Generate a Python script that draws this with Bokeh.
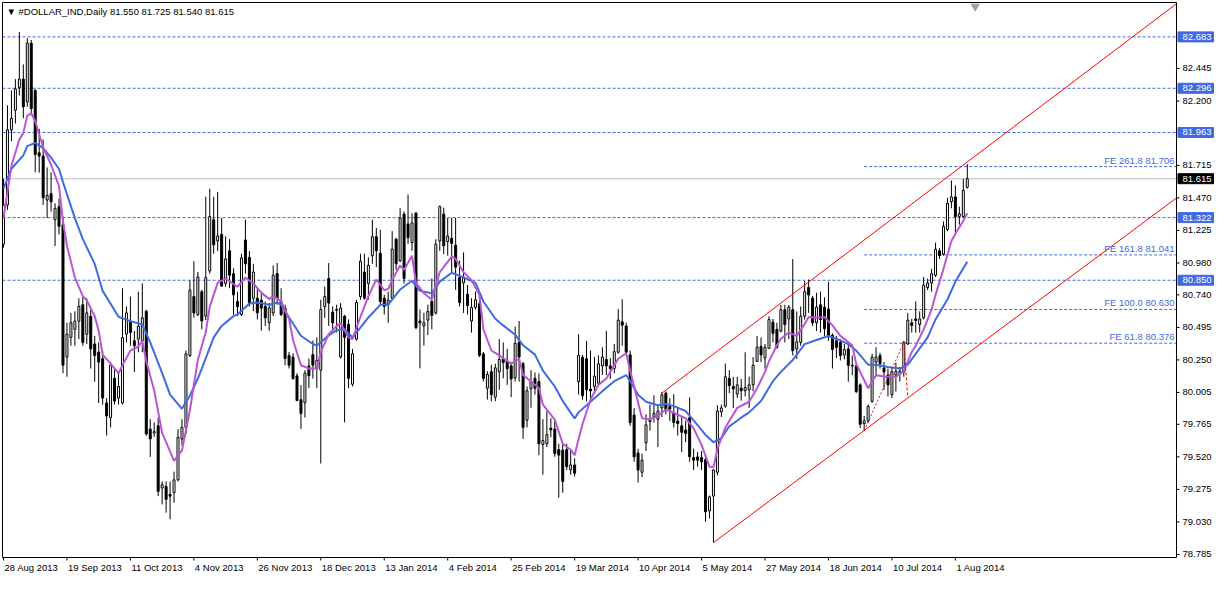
from bokeh.plotting import figure
from bokeh.models import Range1d, ColumnDataSource
from bokeh.core.properties import value
from bokeh.embed import file_html
from bokeh.resources import INLINE

# ---------------- data ----------------
symbol_text = "#DOLLAR_IND,Daily  81.550 81.725 81.540 81.615"
date_labels = ["28 Aug 2013", "19 Sep 2013", "11 Oct 2013", "4 Nov 2013", "26 Nov 2013",
               "18 Dec 2013", "13 Jan 2014", "4 Feb 2014", "25 Feb 2014", "19 Mar 2014",
               "10 Apr 2014", "5 May 2014", "27 May 2014", "18 Jun 2014", "10 Jul 2014", "1 Aug 2014"]
date_bars = [0, 16, 32, 48, 64, 80, 96, 112, 128, 144, 160, 176, 192, 208, 224, 240]

price_ticks = [78.785, 79.030, 79.275, 79.520, 79.765, 80.005, 80.250, 80.495,
               80.740, 80.980, 81.225, 81.470, 81.715, 82.200, 82.445]

opens = [81.121, 81.417, 81.983, 82.131, 82.300, 82.365, 82.193, 82.636, 82.279, 81.810,
         81.786, 81.454, 81.503, 81.306, 81.404, 81.268, 80.271, 80.420, 80.480, 80.542,
         80.665, 80.444, 80.579, 80.370, 80.308, 80.259, 79.926, 79.815, 80.111, 79.963,
         79.926, 80.444, 80.542, 80.394, 80.407, 80.394, 80.616, 79.729, 79.700, 79.754,
         79.286, 79.298, 79.237, 79.249, 79.347, 79.655, 79.742, 80.283, 80.727, 80.592,
         80.764, 80.580, 80.920, 81.306, 81.146, 81.195, 80.826, 81.072, 80.900, 80.690,
         80.592, 81.154, 81.023, 80.715, 80.715, 80.700, 80.653, 80.530, 80.604, 80.900,
         80.690, 80.641, 80.284, 80.272, 80.130, 79.950, 79.927, 80.205, 80.290, 80.185,
         80.173, 80.653, 80.863, 80.610, 80.630, 80.272, 80.580, 80.518, 80.067, 80.407,
         80.727, 80.912, 80.826, 81.035, 81.178, 81.053, 80.715, 80.666, 80.715, 81.159,
         80.998, 81.348, 81.274, 81.134, 81.356, 80.543, 80.506, 80.550, 80.690, 80.604,
         81.146, 81.348, 81.141, 81.166, 81.114, 80.870, 80.830, 80.745, 80.543, 80.646,
         80.673, 80.296, 80.037, 80.161, 79.969, 80.161, 80.259, 80.240, 80.205, 80.116,
         80.382, 80.222, 79.796, 80.033, 80.111, 80.087, 79.614, 79.619, 79.735, 79.730,
         79.574, 79.570, 79.574, 79.422, 79.459, 80.087, 80.270, 80.259, 80.030, 80.050,
         80.074, 80.205, 80.254, 80.205, 80.185, 80.308, 80.537, 80.505, 80.288, 79.835,
         79.549, 79.404, 79.626, 79.786, 79.823, 79.803, 79.889, 80.000, 79.900, 79.852,
         79.790, 79.754, 79.722, 79.815, 79.515, 79.520, 79.515, 79.500, 79.113, 79.224,
         79.404, 79.860, 79.902, 80.111, 80.050, 79.993, 80.037, 80.018, 80.025, 80.062,
         80.239, 80.352, 80.264, 80.338, 80.535, 80.480, 80.468, 80.628, 80.559, 80.628,
         80.333, 80.382, 80.579, 80.796, 80.715, 80.530, 80.665, 80.648, 80.633, 80.436,
         80.394, 80.382, 80.288, 80.333, 80.209, 80.204, 80.062, 79.771, 79.791, 79.938,
         80.234, 80.283, 80.190, 80.136, 79.988, 80.136, 80.148, 80.160, 80.370, 80.529,
         80.559, 80.517, 80.567, 80.796, 80.830, 80.887, 81.072, 81.047, 81.232, 81.441,
         81.478, 81.330, 81.330, 81.550]
highs = [81.614, 82.168, 82.279, 82.365, 82.720, 82.476, 82.673, 82.660, 82.290, 81.990,
         81.910, 81.700, 81.663, 81.430, 81.466, 81.330, 80.530, 80.604, 80.616, 80.714,
         80.727, 80.714, 80.628, 80.431, 80.382, 80.320, 79.963, 80.234, 80.185, 80.160,
         80.790, 80.653, 80.727, 80.468, 80.764, 80.826, 80.628, 79.803, 79.780, 79.815,
         79.335, 79.335, 79.335, 79.409, 79.729, 79.803, 80.320, 80.850, 80.994, 80.912,
         80.777, 81.480, 81.540, 81.479, 81.516, 81.319, 81.180, 81.160, 80.940, 80.764,
         81.050, 81.306, 81.070, 80.974, 80.789, 80.750, 80.690, 80.678, 80.962, 80.980,
         80.790, 80.666, 80.310, 80.300, 80.150, 80.060, 80.173, 80.260, 80.395, 80.420,
         80.703, 80.801, 80.980, 80.653, 80.666, 80.678, 80.590, 80.555, 80.333, 80.703,
         81.050, 81.050, 81.023, 81.306, 81.245, 81.230, 80.740, 80.764, 81.220, 81.170,
         81.393, 81.368, 81.496, 81.355, 81.363, 80.630, 80.604, 80.666, 80.863, 81.159,
         81.413, 81.397, 81.319, 81.320, 81.320, 80.998, 81.060, 80.814, 80.715, 80.764,
         80.690, 80.310, 80.166, 80.215, 80.222, 80.407, 80.382, 80.333, 80.235, 80.501,
         80.543, 80.235, 80.050, 80.173, 80.156, 80.148, 79.804, 79.865, 79.811, 79.804,
         79.619, 79.619, 79.619, 79.570, 79.508, 80.444, 80.289, 80.394, 80.320, 80.271,
         80.284, 80.345, 80.468, 80.264, 80.370, 80.633, 80.707, 80.530, 80.320, 79.889,
         79.581, 79.544, 79.840, 79.914, 79.983, 79.909, 80.008, 80.013, 79.963, 79.993,
         79.889, 79.828, 79.791, 79.968, 79.581, 79.557, 79.564, 79.520, 79.229, 79.426,
         79.909, 79.914, 80.222, 80.173, 80.123, 80.123, 80.106, 80.308, 80.123, 80.271,
         80.431, 80.419, 80.370, 80.579, 80.559, 80.530, 80.665, 80.665, 80.665, 81.010,
         80.616, 80.653, 80.845, 80.855, 80.732, 80.756, 80.764, 80.722, 80.838, 80.450,
         80.431, 80.406, 80.370, 80.370, 80.283, 80.214, 80.074, 79.828, 79.914, 80.296,
         80.345, 80.303, 80.234, 80.185, 80.197, 80.229, 80.197, 80.394, 80.603, 80.559,
         80.690, 80.616, 80.875, 80.862, 80.936, 81.133, 81.091, 81.293, 81.471, 81.601,
         81.564, 81.404, 81.614, 81.725]
lows = [81.096, 81.380, 81.897, 82.030, 82.240, 82.070, 82.156, 82.100, 81.663, 81.660,
        81.417, 81.318, 81.367, 81.108, 81.195, 80.150, 80.123, 80.357, 80.357, 80.407,
        80.357, 80.370, 80.185, 80.086, 79.926, 79.914, 79.680, 79.742, 79.914, 79.914,
        79.914, 80.382, 80.357, 80.160, 80.308, 80.308, 79.680, 79.520, 79.670, 79.224,
        79.162, 79.100, 79.050, 79.175, 79.335, 79.606, 79.692, 80.271, 80.567, 80.580,
        80.481, 80.550, 80.900, 81.050, 81.070, 80.800, 80.800, 80.790, 80.590, 80.580,
        80.580, 80.900, 80.653, 80.617, 80.555, 80.470, 80.506, 80.469, 80.580, 80.666,
        80.580, 80.210, 80.185, 80.100, 79.940, 79.730, 79.816, 80.037, 80.110, 80.037,
        79.470, 80.567, 80.506, 80.480, 80.457, 80.260, 79.780, 80.037, 80.050, 80.395,
        80.703, 80.703, 80.703, 80.974, 80.950, 80.666, 80.592, 80.530, 80.703, 80.925,
        80.986, 80.826, 81.122, 81.072, 80.481, 80.186, 80.358, 80.437, 80.480, 80.592,
        81.072, 81.048, 81.035, 80.900, 80.777, 80.653, 80.604, 80.592, 80.456, 80.629,
        80.272, 80.087, 79.951, 79.939, 79.939, 80.025, 80.111, 80.062, 79.970, 80.087,
        80.087, 79.655, 79.742, 79.890, 79.988, 79.533, 79.385, 79.594, 79.668, 79.520,
        79.212, 79.249, 79.422, 79.385, 79.372, 79.988, 79.951, 79.938, 79.950, 80.013,
        80.062, 80.136, 80.136, 80.106, 80.148, 80.296, 80.357, 80.284, 79.754, 79.483,
        79.327, 79.367, 79.564, 79.717, 79.778, 79.594, 79.820, 79.840, 79.790, 79.741,
        79.680, 79.557, 79.630, 79.483, 79.421, 79.446, 79.421, 79.032, 79.056, 78.874,
        79.380, 79.820, 79.889, 80.000, 79.889, 79.963, 79.943, 79.975, 79.889, 80.013,
        80.234, 80.234, 80.185, 80.333, 80.382, 80.333, 80.456, 80.382, 80.406, 80.283,
        80.259, 80.357, 80.554, 80.604, 80.505, 80.468, 80.456, 80.431, 80.394, 80.185,
        80.264, 80.246, 80.254, 80.086, 80.136, 80.000, 79.737, 79.717, 79.778, 79.926,
        80.136, 80.185, 80.025, 79.975, 79.963, 80.012, 80.086, 80.123, 80.362, 80.456,
        80.456, 80.456, 80.555, 80.776, 80.764, 80.875, 81.010, 81.035, 81.220, 81.392,
        81.207, 81.269, 81.318, 81.540]
closes = [81.417, 81.983, 82.069, 82.291, 82.365, 82.156, 82.636, 82.143, 81.798, 81.786,
          81.471, 81.490, 81.441, 81.392, 81.256, 80.210, 80.444, 80.530, 80.542, 80.653,
          80.382, 80.604, 80.333, 80.283, 80.234, 79.963, 79.828, 80.210, 79.940, 80.050,
          80.419, 80.604, 80.456, 80.357, 80.505, 80.567, 79.692, 79.655, 79.710, 79.260,
          79.310, 79.200, 79.224, 79.347, 79.667, 79.742, 80.296, 80.776, 80.604, 80.875,
          80.543, 80.870, 81.330, 81.117, 81.183, 80.806, 81.011, 80.888, 80.740, 80.650,
          81.018, 80.974, 80.678, 80.912, 80.604, 80.640, 80.567, 80.641, 80.888, 80.715,
          80.592, 80.260, 80.210, 80.111, 79.944, 79.846, 80.150, 80.131, 80.210, 80.247,
          80.629, 80.727, 80.678, 80.530, 80.624, 80.641, 80.420, 80.112, 80.296, 80.683,
          80.994, 80.715, 80.962, 81.178, 81.072, 80.690, 80.653, 80.700, 81.085, 80.974,
          81.319, 80.863, 81.171, 81.282, 80.493, 80.530, 80.530, 80.616, 80.585, 81.122,
          81.405, 81.110, 81.183, 81.127, 80.949, 80.683, 80.870, 80.658, 80.646, 80.703,
          80.284, 80.111, 80.141, 79.988, 80.190, 80.254, 80.230, 80.185, 80.107, 80.375,
          80.272, 79.742, 80.018, 80.087, 80.037, 79.619, 79.643, 79.688, 79.723, 79.545,
          79.533, 79.335, 79.446, 79.459, 79.397, 80.284, 79.980, 80.025, 80.017, 80.128,
          80.222, 80.271, 80.205, 80.185, 80.313, 80.550, 80.512, 80.308, 79.778, 79.520,
          79.421, 79.495, 79.761, 79.796, 79.848, 79.865, 79.988, 79.877, 79.880, 79.778,
          79.771, 79.705, 79.697, 79.520, 79.495, 79.495, 79.483, 79.106, 79.219, 79.421,
          79.865, 79.889, 80.123, 80.057, 80.032, 80.062, 80.018, 80.042, 80.062, 80.209,
          80.345, 80.288, 80.345, 80.554, 80.450, 80.345, 80.628, 80.517, 80.648, 80.320,
          80.387, 80.579, 80.764, 80.739, 80.530, 80.648, 80.554, 80.485, 80.431, 80.328,
          80.345, 80.283, 80.328, 80.209, 80.204, 80.012, 79.766, 79.791, 79.900, 80.271,
          80.271, 80.222, 80.160, 80.062, 80.160, 80.165, 80.165, 80.382, 80.549, 80.510,
          80.547, 80.559, 80.813, 80.830, 80.899, 81.084, 81.035, 81.256, 81.429, 81.478,
          81.330, 81.350, 81.527, 81.615]

# moving averages, read at sample bars
ma_slow_x = [0, 2, 5, 6, 8, 10, 12, 14, 15, 18, 20, 23, 25, 29, 32, 35, 37, 40, 42, 45, 47, 49,
             50, 53, 55, 58, 59, 62, 64, 67, 69, 70, 72, 75, 78, 79, 82, 84, 86, 88, 90, 92, 95,
             97, 100, 103, 105, 108, 110, 113, 116, 119, 121, 124, 126, 129, 131, 134, 136, 139,
             141, 144, 145, 148, 152, 154, 157, 158, 160, 162, 165, 167, 169, 172, 174, 177, 179,
             181, 183, 186, 188, 191, 193, 194, 196, 199, 202, 205, 208, 210, 213, 215, 218, 220,
             223, 226, 228, 230, 233, 235, 238, 240, 243]
ma_slow_y = [81.54, 81.69, 81.79, 81.86, 81.885, 81.845, 81.774, 81.688, 81.589, 81.318, 81.16,
             80.973, 80.77, 80.575, 80.542, 80.517, 80.382, 80.15, 79.988, 79.882, 79.98, 80.11,
             80.185, 80.42, 80.506, 80.58, 80.592, 80.675, 80.683, 80.666, 80.683, 80.665, 80.57,
             80.432, 80.37, 80.358, 80.435, 80.474, 80.481, 80.42, 80.494, 80.57, 80.665, 80.666,
             80.78, 80.846, 80.77, 80.752, 80.84, 80.907, 80.872, 80.83, 80.69, 80.56, 80.51, 80.44,
             80.36, 80.29, 80.17, 80.05, 79.94, 79.81, 79.855, 79.935, 80.04, 80.09, 80.136, 80.09,
             79.988, 79.935, 79.909, 79.919, 79.902, 79.865, 79.795, 79.685, 79.63, 79.66, 79.75,
             79.815, 79.855, 79.94, 80.04, 80.09, 80.16, 80.25, 80.369, 80.40, 80.43, 80.41, 80.369,
             80.32, 80.214, 80.214, 80.197, 80.185, 80.215, 80.296, 80.42, 80.555, 80.705, 80.84,
             80.99]
ma_fast_x = [0, 2, 4, 5, 6, 7, 8, 10, 12, 14, 15, 16, 18, 20, 21, 23, 24, 25, 27, 29, 30, 32, 34,
             35, 36, 38, 40, 43, 45, 47, 49, 51, 52, 53, 54, 56, 59, 61, 63, 65, 67, 68, 70, 72, 73,
             75, 77, 79, 80, 82, 84, 85, 87, 88, 90, 92, 94, 96, 97, 98, 100, 101, 103, 104, 106,
             108, 110, 113, 114, 116, 118, 120, 121, 123, 125, 128, 130, 131, 133, 135, 136, 139,
             141, 143, 144, 145, 146, 148, 150, 152, 155, 157, 158, 160, 161, 163, 165, 167, 169,
             172, 174, 176, 178, 179, 180, 182, 183, 185, 187, 188, 190, 192, 193, 195, 196, 198,
             200, 202, 203, 205, 207, 209, 211, 214, 215, 218, 220, 222, 225, 227, 229, 230, 232,
             234, 235, 237, 239, 240, 242, 243]
ma_fast_y = [81.318, 81.713, 81.91, 81.96, 82.09, 82.106, 82.05, 81.85, 81.72, 81.56, 81.294,
             81.11, 80.87, 80.73, 80.70, 80.579, 80.47, 80.29, 80.222, 80.148, 80.21, 80.32, 80.35,
             80.394, 80.24, 80.02, 79.70, 79.49, 79.569, 79.87, 80.25, 80.46, 80.65, 80.74, 80.83,
             80.863, 80.801, 80.87, 80.826, 80.757, 80.708, 80.732, 80.69, 80.56, 80.40, 80.21,
             80.185, 80.185, 80.31, 80.444, 80.506, 80.525, 80.42, 80.407, 80.575, 80.73, 80.856,
             80.775, 80.785, 80.851, 80.961, 80.929, 81.035, 80.83, 80.752, 80.703, 80.912, 81.028,
             81.011, 80.91, 80.851, 80.74, 80.481, 80.321, 80.284, 80.222, 80.259, 80.136, 80.087,
             80.038, 79.914, 79.80, 79.619, 79.574, 79.532, 79.655, 79.767, 79.95, 80.062, 80.11,
             80.259, 80.30, 80.17, 79.93, 79.81, 79.803, 79.828, 79.877, 79.852, 79.81, 79.735,
             79.61, 79.445, 79.441, 79.58, 79.74, 79.79, 79.889, 79.92, 79.935, 80.037, 80.16,
             80.24, 80.36, 80.41, 80.456, 80.431, 80.52, 80.574, 80.567, 80.574, 80.51, 80.431,
             80.36, 80.22, 80.037, 80.135, 80.125, 80.123, 80.165, 80.31, 80.357, 80.48, 80.628,
             80.74, 80.936, 81.146, 81.2, 81.298, 81.355]

# horizontal levels
h_levels = [82.683, 82.296, 81.963, 81.322, 80.850]
current_price = 81.615
fe_names = ["FE 261.8", "FE 161.8", "FE 100.0", "FE 61.8"]
fe_levels = [81.706, 81.041, 80.630, 80.376]
fe_start_bar = 217

# channel and expansion anchors (bar, price)
chan_upper_x = [166, 296.5]
chan_upper_y = [80.00, 82.95]
chan_lower_x = [179, 295.75]
chan_lower_y = [78.874, 81.47]
fe_ab_x = [217, 227]
fe_ab_y = [79.717, 80.381]
fe_bc_x = [227, 228]
fe_bc_y = [80.381, 79.966]
shift_bar = [245]

# ---------------- layout ----------------
W, H = 1215, 573
X0, X1 = -0.25, 295.75          # visible bar span of the chart pane
Y0, Y1 = 78.762, 82.942         # visible price span of the chart pane
LEFT_PX, TOP_PX, SCALE_PX, DATE_PX = 2, 2, 39, 16
PXB = (W - LEFT_PX - SCALE_PX) / (X1 - X0)     # pixels per bar
PXU = (H - TOP_PX - DATE_PX) / (Y1 - Y0)       # pixels per price unit


def bx(px):
    return px / PXB


def py(px):
    return px / PXU


FONT = value("Liberation Sans")
FS = value("9.5px")
BLUE = "#4169E1"
DASH = "3 2"

p = figure(width=W, height=H, output_backend="svg", toolbar_location=None,
           x_range=Range1d(X0 - bx(LEFT_PX), X1 + bx(SCALE_PX)),
           y_range=Range1d(Y0 - py(DATE_PX), Y1 + py(TOP_PX)),
           x_axis_location=None, y_axis_location=None,
           min_border=0, min_border_left=0, min_border_right=0, min_border_top=0, min_border_bottom=0,
           background_fill_color="white", border_fill_color="white")
p.xgrid.visible = False
p.ygrid.visible = False
p.outline_line_color = None

# level lines
nl = len(h_levels)
p.segment(x0=[X0] * nl, y0=h_levels, x1=[X1] * nl, y1=h_levels,
          line_color=BLUE, line_dash=DASH, line_width=1)
p.segment(x0=[X0], y0=[current_price], x1=[X1], y1=[current_price], line_color="#C0C0C0", line_width=1)
nf = len(fe_levels)
p.segment(x0=[fe_start_bar] * nf, y0=fe_levels, x1=[X1] * nf, y1=fe_levels,
          line_color=BLUE, line_dash=DASH, line_width=1)

# candles
n = len(closes)
idx = list(range(n))
wick_src = ColumnDataSource(dict(x=idx, h=highs, l=lows))
p.segment(x0="x", y0="l", x1="x", y1="h", source=wick_src, line_color="black", line_width=1)
bull = [i for i in idx if closes[i] >= opens[i]]
bear = [i for i in idx if closes[i] < opens[i]]
p.vbar(x=bull, bottom=[opens[i] for i in bull], top=[closes[i] for i in bull], width=0.5,
       fill_color="white", line_color="black", line_width=1)
p.vbar(x=bear, bottom=[closes[i] for i in bear], top=[opens[i] for i in bear], width=0.5,
       fill_color="black", line_color="black", line_width=1)

# moving averages
p.line(ma_slow_x, ma_slow_y, line_color=BLUE, line_width=2)
p.line(ma_fast_x, ma_fast_y, line_color="#BA55D3", line_width=2)

# channel and expansion tool
cux = [min(x, X1) for x in chan_upper_x]
cuy = [chan_upper_y[0] + (chan_upper_y[1] - chan_upper_y[0]) * (cx - chan_upper_x[0]) /
       (chan_upper_x[1] - chan_upper_x[0]) for cx in cux]
cuy = [min(v, Y1) for v in cuy]
p.line(cux, cuy, line_color="red", line_width=1)
p.line(chan_lower_x, chan_lower_y, line_color="red", line_width=1)
p.line(fe_ab_x, fe_ab_y, line_color="red", line_width=1, line_dash="2 2")
p.line(fe_bc_x, fe_bc_y, line_color="red", line_width=1, line_dash="3 2")

# chart shift marker
p.scatter(shift_bar, [Y1 - py(4)], marker="inverted_triangle", size=8, fill_color="#A0A0A0",
          line_color="#A0A0A0")

# FE labels
p.text(x=[X1 - bx(2)] * nf, y=[lv + py(1) for lv in fe_levels],
       text=[f"{nm} {lv:.3f}" for nm, lv in zip(fe_names, fe_levels)],
       text_align="right", text_baseline="bottom", text_color=BLUE, text_font=FONT, text_font_size=FS)

# chart pane frame
p.quad(left=[X0], right=[X1], bottom=[Y0], top=[Y1], fill_color=None, line_color="black", line_width=1)

# price scale: ticks and labels
nt = len(price_ticks)
p.segment(x0=[X1] * nt, y0=price_ticks, x1=[X1 + bx(3)] * nt, y1=price_ticks, line_color="black")
p.text(x=[X1 + bx(6)] * nt, y=price_ticks, text=[f"{t:.3f}" for t in price_ticks],
       text_align="left", text_baseline="middle", text_color="black", text_font=FONT, text_font_size=FS)

# highlighted level labels on the scale
box_levels = h_levels + [current_price]
box_colors = [BLUE] * nl + ["black"]
p.quad(left=[X1 + bx(1.5)] * len(box_levels), right=[X1 + bx(37)] * len(box_levels),
       bottom=[lv - py(5) for lv in box_levels], top=[lv + py(5) for lv in box_levels],
       fill_color=box_colors, line_color=box_colors)
p.text(x=[X1 + bx(6)] * len(box_levels), y=box_levels, text=[f"{lv:.3f}" for lv in box_levels],
       text_align="left", text_baseline="middle", text_color="white", text_font=FONT, text_font_size=FS)

# time scale: ticks and labels
nd = len(date_bars)
p.segment(x0=date_bars, y0=[Y0] * nd, x1=date_bars, y1=[Y0 - py(3)] * nd, line_color="black")
p.text(x=[b + bx(1) for b in date_bars], y=[Y0 - py(4)] * nd, text=date_labels,
       text_align="left", text_baseline="top", text_color="black", text_font=FONT, text_font_size=FS)

# header
p.text(x=[X0 + bx(4)], y=[Y1 - py(3)], text=["\u25bc  " + symbol_text],
       text_align="left", text_baseline="top", text_color="black", text_font=FONT, text_font_size=FS)

open("out.html", "w").write(file_html(p, INLINE))
